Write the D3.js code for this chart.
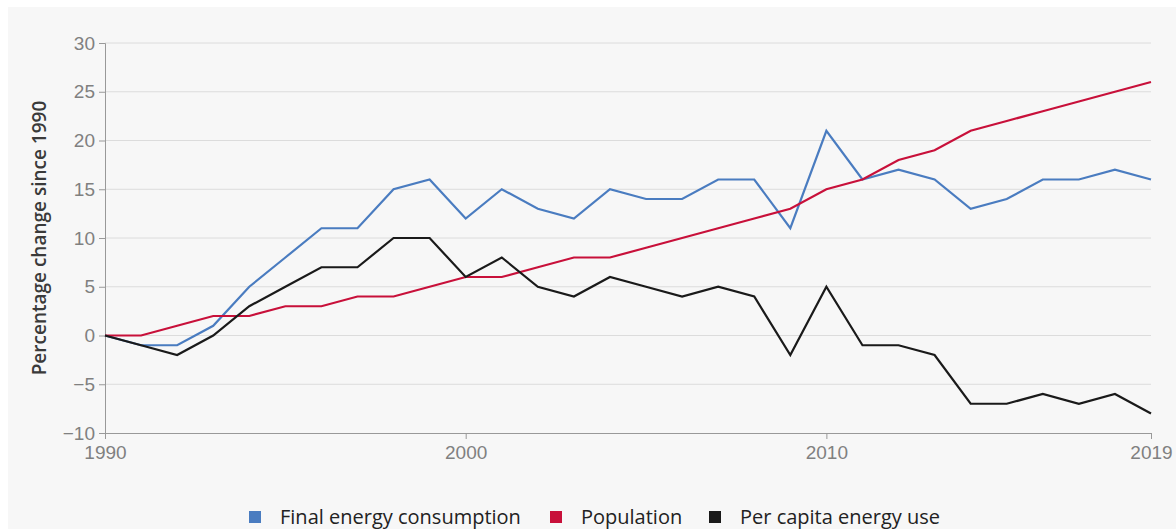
<!DOCTYPE html>
<html>
<head>
<meta charset="utf-8">
<script src="https://cdn.jsdelivr.net/npm/d3@7.9.0/dist/d3.min.js"></script>
<style>
  html, body { margin: 0; padding: 0; background: #fff; }
  svg { display: block; font-family: "Open Sans", "DejaVu Sans", sans-serif; }
</style>
</head>
<body>
<svg id="chart" width="1176" height="529"></svg>
<script>
// ====== DATA ======
const years = d3.range(1990, 2020);
const finalEnergy = [0, -1, -1, 1, 5, 8, 11, 11, 15, 16, 12, 15, 13, 12, 15, 14, 14, 16, 16, 11, 21, 16, 17, 16, 13, 14, 16, 16, 17, 16];
const population = [0, 0, 1, 2, 2, 3, 3, 4, 4, 5, 6, 6, 7, 8, 8, 9, 10, 11, 12, 13, 15, 16, 18, 19, 21, 22, 23, 24, 25, 26];
const perCapita = [0, -1, -2, 0, 3, 5, 7, 7, 10, 10, 6, 8, 5, 4, 6, 5, 4, 5, 4, -2, 5, -1, -1, -2, -7, -7, -6, -7, -6, -8];
const yTicks = [-10, -5, 0, 5, 10, 15, 20, 25, 30];
const xTicks = [1990, 2000, 2010, 2019];

const series = [
  { name: "Final energy consumption", values: finalEnergy, color: "#4a7cc0" },
  { name: "Population", values: population, color: "#c8103a" },
  { name: "Per capita energy use", values: perCapita, color: "#1a1a1a" }
];

// ====== LAYOUT ======
const svg = d3.select("#chart");
const margin = { left: 105, right: 25, top: 43, bottom: 96 };
const W = 1176, H = 529;

svg.append("rect").attr("x", 8).attr("y", 7).attr("width", W - 8).attr("height", H - 7).attr("fill", "#f7f7f7");

const x = d3.scaleLinear().domain([1990, 2019]).range([margin.left, W - margin.right]);
const y = d3.scaleLinear().domain([-10, 30]).range([H - margin.bottom, margin.top]);

// grid
svg.append("g")
  .selectAll("line")
  .data(yTicks.filter(d => d !== -10))
  .join("line")
  .attr("x1", x(1990)).attr("x2", x(2019))
  .attr("y1", d => y(d)).attr("y2", d => y(d))
  .attr("stroke", "#dcdcdc").attr("stroke-width", 1);

// axes
const yAxis = svg.append("g")
  .attr("transform", `translate(${margin.left},0)`)
  .call(d3.axisLeft(y).tickValues(yTicks).tickSize(6).tickPadding(4).tickFormat(d => d < 0 ? "\u2212" + Math.abs(d) : d));
const xAxis = svg.append("g")
  .attr("transform", `translate(0,${y(-10)})`)
  .call(d3.axisBottom(x).tickValues(xTicks).tickSize(6).tickPadding(3).tickFormat(d3.format("d")));

[yAxis, xAxis].forEach(g => {
  g.select(".domain").attr("stroke", "#999");
  g.selectAll(".tick line").attr("stroke", "#999");
  g.selectAll(".tick text").attr("fill", "#808080").attr("font-size", 19).attr("font-weight", 300);
});
xAxis.selectAll(".tick text").attr("dy", "0.9em");

// axis title
svg.append("text")
  .attr("transform", `translate(46,${(y(30) + y(-10)) / 2}) rotate(-90)`)
  .attr("text-anchor", "middle")
  .attr("font-size", 19)
  .attr("font-weight", 600)
  .attr("fill", "#3a3a3a")
  .text("Percentage change since 1990");

// lines
const line = d3.line().x((d, i) => x(years[i])).y(d => y(d));
svg.append("g")
  .selectAll("path")
  .data(series)
  .join("path")
  .attr("d", d => line(d.values))
  .attr("fill", "none")
  .attr("stroke", d => d.color)
  .attr("stroke-width", 2.2)
  .attr("stroke-linejoin", "miter");

// legend
const legendX = [249, 550, 709];
const legend = svg.append("g")
  .selectAll("g")
  .data(series)
  .join("g")
  .attr("transform", (d, i) => `translate(${legendX[i]},517)`);
legend.append("rect")
  .attr("x", 0).attr("y", -6).attr("width", 12).attr("height", 12)
  .attr("fill", d => d.color);
legend.append("text")
  .attr("x", 31).attr("y", 0).attr("dy", "0.35em")
  .attr("font-size", 20).attr("fill", "#222")
  .text(d => d.name);
</script>
</body>
</html>
